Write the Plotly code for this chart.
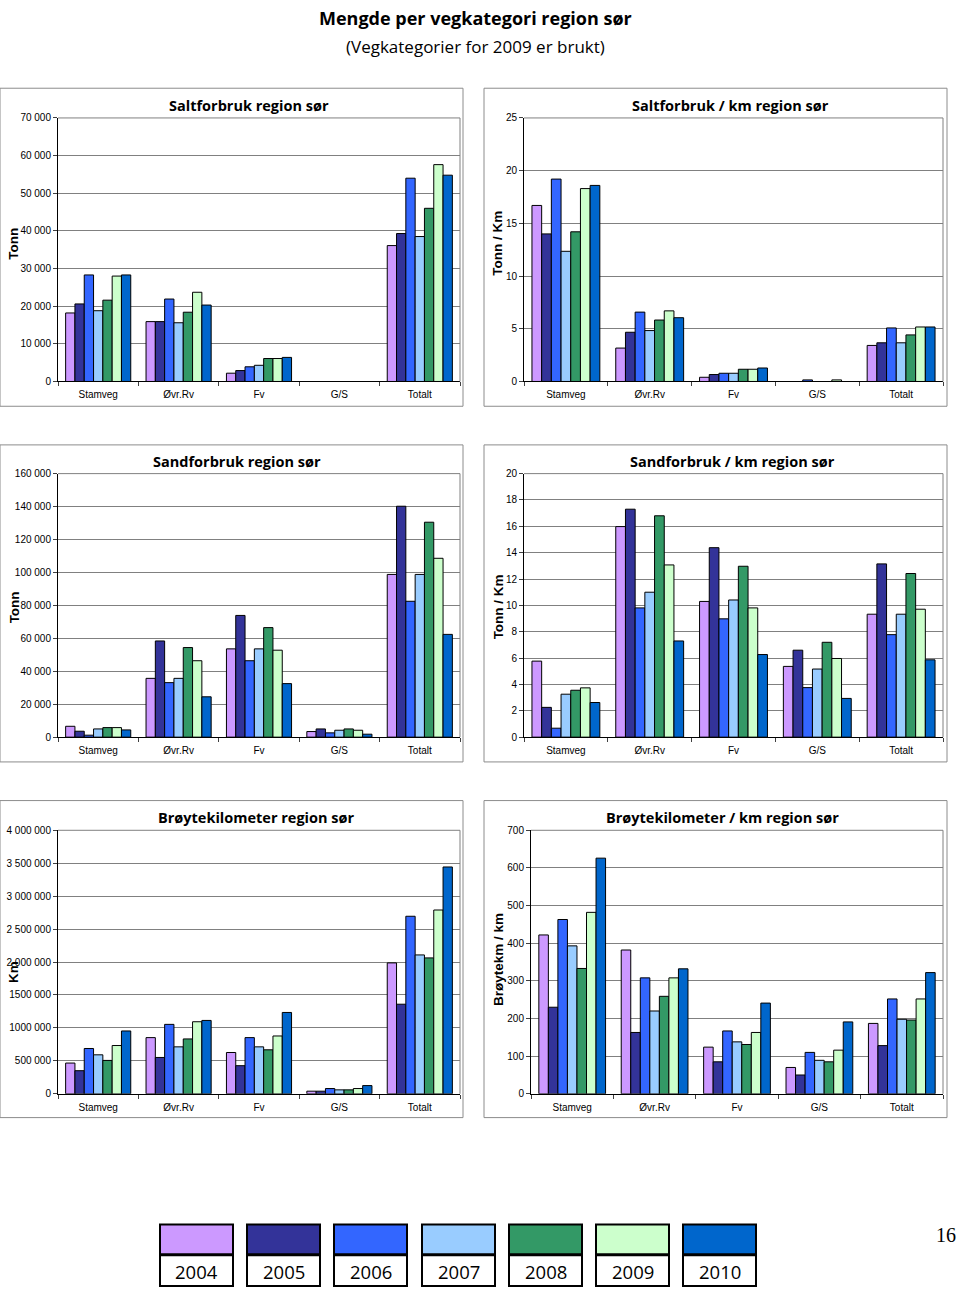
import plotly.graph_objects as go

W, H = 960, 1294

categories = ["Stamveg", "Øvr.Rv", "Fv", "G/S", "Totalt"]
years = ["2004", "2005", "2006", "2007", "2008", "2009", "2010"]
colors = ["#CC99FF", "#333399", "#3366FF", "#99CCFF", "#339966", "#CCFFCC", "#0066CC"]

# values per year (rows) across categories (columns)
salt_tonn = [
    [18200, 15900, 2200, None, 36100],
    [20600, 15900, 2900, None, 39300],
    [28300, 21900, 3900, None, 54000],
    [18800, 15600, 4300, None, 38500],
    [21600, 18400, 6100, None, 46000],
    [28000, 23700, 6100, None, 57600],
    [28300, 20300, 6400, None, 54800],
]
salt_per_km = [
    [16.7, 3.17, 0.40, None, 3.42],
    [14.0, 4.67, 0.66, None, 3.67],
    [19.2, 6.58, 0.78, 0.15, 5.08],
    [12.35, 4.83, 0.78, None, 3.67],
    [14.2, 5.83, 1.16, None, 4.42],
    [18.3, 6.70, 1.16, 0.15, 5.17],
    [18.6, 6.05, 1.28, None, 5.17],
]
sand_tonn = [
    [6600, 35700, 53600, 3400, 98800],
    [3600, 58400, 73900, 5000, 140200],
    [1200, 33100, 46400, 2600, 82500],
    [5000, 35700, 53600, 4200, 98800],
    [5800, 54400, 66500, 5000, 130500],
    [5800, 46400, 52800, 4200, 108600],
    [4400, 24500, 32500, 1800, 62400],
]
sand_per_km = [
    [5.77, 15.98, 10.30, 5.37, 9.33],
    [2.26, 17.30, 14.38, 6.60, 13.15],
    [0.68, 9.81, 8.98, 3.76, 7.78],
    [3.26, 11.00, 10.41, 5.17, 9.33],
    [3.56, 16.80, 12.97, 7.20, 12.42],
    [3.74, 13.07, 9.81, 5.97, 9.71],
    [2.63, 7.30, 6.27, 2.94, 5.87],
]
broyte_km = [
    [467000, 853000, 627000, 40000, 1987000],
    [351000, 552000, 427000, 40000, 1360000],
    [688000, 1054000, 853000, 80000, 2695000],
    [592000, 713000, 713000, 60000, 2108000],
    [507000, 833000, 668000, 60000, 2063000],
    [733000, 1094000, 878000, 80000, 2790000],
    [954000, 1114000, 1235000, 125000, 3443000],
]
broyte_per_km = [
    [422, 382, 124, 70, 187],
    [230, 163, 85, 50, 128],
    [463, 308, 167, 110, 252],
    [393, 220, 138, 89, 198],
    [333, 259, 131, 85, 196],
    [482, 308, 163, 116, 252],
    [626, 332, 241, 191, 322],
]

titles = ["Saltforbruk region sør", "Saltforbruk / km region sør",
          "Sandforbruk region sør", "Sandforbruk / km region sør",
          "Brøytekilometer region sør", "Brøytekilometer / km region sør"]
ytitles = ["Tonn", "Tonn / Km", "Tonn", "Tonn / Km", "Km", "Brøytekm / km"]
ytick_vals = [
    [0, 10000, 20000, 30000, 40000, 50000, 60000, 70000],
    [0, 5, 10, 15, 20, 25],
    [0, 20000, 40000, 60000, 80000, 100000, 120000, 140000, 160000],
    [0, 2, 4, 6, 8, 10, 12, 14, 16, 18, 20],
    [0, 500000, 1000000, 1500000, 2000000, 2500000, 3000000, 3500000, 4000000],
    [0, 100, 200, 300, 400, 500, 600, 700],
]
ytick_text = [
    ["0", "10 000", "20 000", "30 000", "40 000", "50 000", "60 000", "70 000"],
    ["0", "5", "10", "15", "20", "25"],
    ["0", "20 000", "40 000", "60 000", "80 000", "100 000", "120 000", "140 000", "160 000"],
    ["0", "2", "4", "6", "8", "10", "12", "14", "16", "18", "20"],
    ["0", "500 000", "1000 000", "1500 000", "2 000 000", "2 500 000", "3 000 000", "3 500 000", "4 000 000"],
    ["0", "100", "200", "300", "400", "500", "600", "700"],
]
datasets = [salt_tonn, salt_per_km, sand_tonn, sand_per_km, broyte_km, broyte_per_km]

# layout geometry (pixels)
frames = [(0, 463, 83, 404), (484, 947, 83, 404),
          (0, 463, 443, 763), (484, 947, 443, 763),
          (0, 463, 802, 1122), (484, 947, 802, 1122)]
plots = [(58, 460, 113, 379), (524, 943, 113, 379),
         (58, 460, 472, 738), (524, 943, 472, 738),
         (58, 460, 832, 1098), (531, 943, 832, 1098)]
title_pos = [(249, 100), (730, 100), (237, 460), (732, 460), (256, 819), (722, 819)]
ytitle_pos = [(14, 240), (498, 240), (14, 607), (498, 607), (14, 975), (498, 963)]

def px(x):
    return x / W

def py(y):
    return 1 - y / H

fig = go.Figure()
shapes = []
annotations = []

for i in range(6):
    idx = "" if i == 0 else str(i + 1)
    xa, ya = "x" + idx, "y" + idx
    for k, yr in enumerate(years):
        fig.add_trace(go.Bar(
            x=categories, y=datasets[i][k], name=yr, xaxis=xa, yaxis=ya,
            marker=dict(color=colors[k], line=dict(color="black", width=1)),
            showlegend=False, hoverinfo="x+y+name"))
    x0, x1, y0, y1 = plots[i]
    fx0, fx1, fy0, fy1 = frames[i]
    fig.update_layout(**{
        "xaxis" + idx: dict(
            domain=[px(x0), px(x1)], anchor=ya, type="category",
            categoryorder="array", categoryarray=categories,
            showline=True, linecolor="black", linewidth=1,
            ticks="outside", tickson="boundaries", ticklen=4, tickcolor="#404040",
            tickfont=dict(family="Liberation Sans, Arial", size=10, color="black"),
            ticklabelstandoff=4,
            showgrid=False, fixedrange=True),
        "yaxis" + idx: dict(
            domain=[py(y1), py(y0)], anchor=xa,
            range=[0, ytick_vals[i][-1]],
            tickvals=ytick_vals[i], ticktext=ytick_text[i],
            showline=True, linecolor="black", linewidth=1,
            ticks="outside", ticklen=4, tickcolor="#404040",
            tickfont=dict(family="Liberation Sans, Arial", size=10, color="black"),
            showgrid=True, gridcolor="#808080", gridwidth=1,
            zeroline=False, fixedrange=True),
    })
    # panel frame
    shapes.append(dict(type="rect", xref="paper", yref="paper",
                       x0=px(fx0), x1=px(fx1), y0=py(fy1), y1=py(fy0),
                       line=dict(color="#8c8c8c", width=1), fillcolor="white", layer="below"))
    # plot-area top/right border
    shapes.append(dict(type="path", xref="paper", yref="paper",
                       path=f"M {px(x0)},{py(y0)} L {px(x1)},{py(y0)} L {px(x1)},{py(y1)}",
                       line=dict(color="#808080", width=1), layer="above"))
    tx, ty = title_pos[i]
    annotations.append(dict(text="<b>" + titles[i] + "</b>", xref="paper", yref="paper",
                            x=px(tx), y=py(ty), xanchor="center", yanchor="middle",
                            showarrow=False,
                            font=dict(family="Open Sans, Noto Sans", size=14.5, color="black")))
    yx, yy = ytitle_pos[i]
    annotations.append(dict(text="<b>" + ytitles[i] + "</b>", xref="paper", yref="paper",
                            x=px(yx), y=py(yy), xanchor="center", yanchor="middle",
                            textangle=-90, showarrow=False,
                            font=dict(family="Liberation Sans, Arial", size=13.5, color="black")))

# main titles
annotations.append(dict(text="<b>Mengde per vegkategori region sør</b>", xref="paper", yref="paper",
                        x=px(475), y=py(12), xanchor="center", yanchor="middle", showarrow=False,
                        font=dict(family="Open Sans, Noto Sans", size=18, color="black")))
annotations.append(dict(text="(Vegkategorier for 2009 er brukt)", xref="paper", yref="paper",
                        x=px(475), y=py(41), xanchor="center", yanchor="middle", showarrow=False,
                        font=dict(family="Open Sans, Noto Sans", size=17, color="black")))

# custom legend
legend_x = [160, 247, 334, 422, 509, 596, 683]
for k, yr in enumerate(years):
    lx0 = legend_x[k]
    lx1 = lx0 + 73
    shapes.append(dict(type="rect", xref="paper", yref="paper",
                       x0=px(lx0), x1=px(lx1), y0=py(1260), y1=py(1230),
                       line=dict(color="black", width=2), fillcolor=colors[k], layer="above"))
    shapes.append(dict(type="rect", xref="paper", yref="paper",
                       x0=px(lx0), x1=px(lx1), y0=py(1292), y1=py(1261),
                       line=dict(color="black", width=2), fillcolor="white", layer="above"))
    annotations.append(dict(text=yr, xref="paper", yref="paper",
                            x=px((lx0 + lx1) / 2), y=py(1277), xanchor="center", yanchor="middle",
                            showarrow=False,
                            font=dict(family="Open Sans, Noto Sans", size=18.5, color="black")))

annotations.append(dict(text="16", xref="paper", yref="paper",
                        x=px(946), y=py(1241), xanchor="center", yanchor="middle", showarrow=False,
                        font=dict(family="Liberation Serif, Times New Roman", size=20, color="black")))

fig.update_layout(
    width=W, height=H, margin=dict(l=0, r=0, t=0, b=0),
    paper_bgcolor="white", plot_bgcolor="#C0C0C0",
    barmode="group", bargap=0.19, bargroupgap=0,
    shapes=shapes, annotations=annotations, showlegend=False,
)

fig.write_html(
    "out.html",
    config={"displayModeBar": False},
    post_script=(
        "document.documentElement.style.margin='0';"
        "document.documentElement.style.overflow='hidden';"
        "document.body.style.margin='0';"
        "document.body.style.overflow='hidden';"
        "var d=document.getElementById('{plot_id}');"
        "d.style.position='fixed';d.style.top='0px';d.style.left='0px';"
    ),
)
